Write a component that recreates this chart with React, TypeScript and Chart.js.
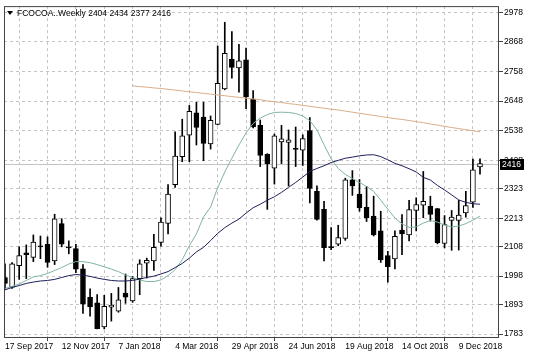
import React, { useEffect, useRef } from "react";
import { Chart, registerables } from "chart.js";

Chart.register(...registerables);

const symbolTitle = "FCOCOA..Weekly";
const xTickLabels = ["17 Sep 2017", "12 Nov 2017", "7 Jan 2018", "4 Mar 2018", "29 Apr 2018", "24 Jun 2018", "19 Aug 2018", "14 Oct 2018", "9 Dec 2018"];
const gridWeeks = [0, 4, 8, 12, 16, 20, 24, 28, 32, 36, 40, 44, 48, 52, 56, 60, 64, 68];
const yTickValues = [1783, 1893, 1998, 2108, 2213, 2323, 2428, 2538, 2648, 2758, 2868, 2978];

const opens = [1993, 1957, 2037, 2085, 2068, 2111, 2116, 2055, 2193, 2107,
  2100, 2025, 1919, 1899, 1809, 1883, 1868, 1935, 1906, 1989,
  2046, 2055, 2123, 2194, 2338, 2442, 2522, 2605, 2589, 2489,
  2562, 2693, 2804, 2771, 2801, 2656, 2558, 2450, 2399, 2497,
  2495, 2473, 2466, 2539, 2313, 2246, 2108, 2117, 2138, 2356,
  2303, 2254, 2221, 2166, 2074, 2062, 2169, 2151, 2242, 2262,
  2258, 2249, 2120, 2205, 2205, 2233, 2273, 2404];
const highs = [2044, 2048, 2107, 2114, 2151, 2147, 2144, 2228, 2211, 2129,
  2116, 2041, 1951, 1930, 1927, 1934, 1956, 2006, 1997, 2059,
  2065, 2153, 2215, 2338, 2534, 2581, 2632, 2644, 2644, 2593,
  2853, 2941, 2906, 2859, 2845, 2687, 2578, 2453, 2526, 2558,
  2541, 2552, 2523, 2587, 2333, 2276, 2178, 2187, 2362, 2390,
  2357, 2331, 2295, 2239, 2090, 2166, 2227, 2280, 2289, 2387,
  2295, 2250, 2223, 2242, 2280, 2313, 2433, 2434];
const lows = [1949, 1952, 1986, 1989, 2052, 2063, 2031, 2041, 2107, 2081,
  2011, 1860, 1849, 1802, 1802, 1831, 1864, 1897, 1901, 1929,
  1991, 2019, 2109, 2155, 2328, 2423, 2423, 2485, 2427, 2470,
  2560, 2690, 2733, 2681, 2620, 2549, 2405, 2246, 2340, 2416,
  2333, 2405, 2409, 2270, 2206, 2055, 2096, 2111, 2131, 2298,
  2239, 2201, 2147, 2049, 1976, 2025, 2078, 2129, 2166, 2215,
  2203, 2118, 2103, 2094, 2095, 2217, 2253, 2377];
const closes = [1971, 2044, 2074, 2078, 2125, 2107, 2049, 2211, 2117, 2103,
  2024, 1894, 1884, 1803, 1886, 1890, 1910, 1920, 1989, 2044,
  2057, 2105, 2199, 2303, 2444, 2519, 2610, 2550, 2491, 2577,
  2714, 2826, 2773, 2798, 2664, 2552, 2446, 2416, 2519, 2508,
  2504, 2469, 2509, 2324, 2209, 2104, 2104, 2141, 2356, 2333,
  2251, 2214, 2151, 2058, 2033, 2146, 2155, 2245, 2264, 2276,
  2227, 2122, 2190, 2217, 2225, 2260, 2393, 2416];

const maSlow = [null, null, null, null, null, null, null, null, null, null,
  null, null, null, null, null, null, null, null,
  2705, 2702, 2700, 2697, 2695, 2692, 2689, 2686, 2683, 2680,
  2677, 2674, 2671, 2668, 2665, 2662, 2659, 2656, 2653, 2649,
  2646, 2643, 2639, 2636, 2632, 2629, 2625, 2622, 2618, 2615,
  2611, 2607, 2603, 2599, 2595, 2591, 2587, 2583, 2580, 2576,
  2572, 2568, 2563, 2559, 2554, 2550, 2546, 2542, 2538, 2534];
const maMid = [1947, 1956, 1963, 1971, 1976, 1980, 1982, 1986, 1993, 2000,
  2004, 2002, 1997, 1991, 1986, 1982, 1980, 1980, 1982, 1987,
  1993, 1998, 2006, 2015, 2030, 2045, 2065, 2088, 2105, 2130,
  2157, 2178, 2195, 2210, 2232, 2252, 2265, 2280, 2293, 2309,
  2328, 2346, 2366, 2387, 2398, 2408, 2420, 2428, 2436, 2440,
  2445, 2448, 2449, 2442, 2430, 2417, 2408, 2397, 2385, 2365,
  2355, 2335, 2318, 2300, 2281, 2272, 2267, 2265];
const maFast = [1952, 1960, 1969, 1982, 1995, 2000, 2008, 2019, 2030, 2043,
  2052, 2052, 2048, 2041, 2033, 2024, 2015, 2002, 1993, 1984,
  1978, 1978, 1984, 2000, 2022, 2059, 2111, 2155, 2218, 2255,
  2326, 2385, 2436, 2485, 2530, 2565, 2585, 2598, 2606, 2607,
  2606, 2602, 2593, 2576, 2541, 2486, 2434, 2398, 2376, 2361,
  2346, 2331, 2313, 2280, 2247, 2214, 2192, 2179, 2181, 2195,
  2204, 2199, 2188, 2181, 2184, 2193, 2206, 2221];

const FONT = "'Liberation Sans', Arial, sans-serif";

const overlayPlugin = {
  id: "mtOverlay",
  beforeDatasetsDraw(chart: any) {
    const { ctx, chartArea } = chart;
    const y = chart.scales.y.getPixelForValue(closes[closes.length - 1]);
    ctx.save();
    ctx.strokeStyle = "#c4c4c4";
    ctx.lineWidth = 1;
    ctx.beginPath();
    ctx.moveTo(chartArea.left, Math.round(y) + 0.5);
    ctx.lineTo(chartArea.right, Math.round(y) + 0.5);
    ctx.stroke();
    ctx.restore();
  },
  afterDraw(chart: any) {
    const { ctx, chartArea } = chart;
    ctx.save();
    // frame
    ctx.strokeStyle = "#444";
    ctx.lineWidth = 1;
    ctx.strokeRect(chartArea.left + 0.5, chartArea.top + 0.5, chartArea.right - chartArea.left - 1, chartArea.bottom - chartArea.top);
    // current price box
    const last = closes[closes.length - 1];
    const y = chart.scales.y.getPixelForValue(last);
    ctx.fillStyle = "#000";
    ctx.fillRect(chartArea.right + 1, Math.round(y) - 5, 24, 11);
    ctx.fillStyle = "#fff";
    ctx.font = "8.5px " + FONT;
    ctx.textBaseline = "middle";
    ctx.textAlign = "left";
    ctx.fillText(String(last), chartArea.right + 3, Math.round(y) + 0.5);
    // header
    const hx = chartArea.left + 3;
    const hy = chartArea.top + 7;
    ctx.fillStyle = "#000";
    ctx.beginPath();
    ctx.moveTo(hx, hy - 2);
    ctx.lineTo(hx + 6, hy - 2);
    ctx.lineTo(hx + 3, hy + 2);
    ctx.closePath();
    ctx.fill();
    const n = closes.length - 1;
    ctx.fillText(symbolTitle + " " + opens[n] + " " + highs[n] + " " + lows[n] + " " + closes[n], hx + 10, hy + 0.5);
    ctx.restore();
  },
};

export default function App() {
  const ref = useRef<HTMLCanvasElement | null>(null);
  useEffect(() => {
    document.body.style.margin = "0";
    const canvas = ref.current!;
    const idx = closes.map((_, i) => i);
    const wickData = idx.map((i) => ({ x: i, y: [lows[i], highs[i]] }));
    const bodyData = idx.map((i) => ({ x: i, y: [Math.min(opens[i], closes[i]), Math.max(opens[i], closes[i])] }));
    const bodyColors = idx.map((i) => (closes[i] >= opens[i] ? "#ffffff" : "#000000"));
    const line = (arr: (number | null)[]) => arr.map((v, i) => ({ x: i, y: v }));

    const chart = new Chart(canvas, {
      type: "bar",
      data: {
        datasets: [
          { type: "line", data: line(maSlow) as any, borderColor: "#d9ae88", borderWidth: 1, pointRadius: 0, tension: 0, order: 0, spanGaps: false },
          { type: "line", data: line(maMid) as any, borderColor: "#1e1e5c", borderWidth: 1, pointRadius: 0, tension: 0, order: 0 },
          { type: "line", data: line(maFast) as any, borderColor: "#7fb4a4", borderWidth: 1, pointRadius: 0, tension: 0, order: 0 },
          { type: "bar", data: bodyData as any, backgroundColor: bodyColors, borderColor: "#000", borderWidth: 1, borderSkipped: false, barThickness: 5, grouped: false, order: 1 } as any,
          { type: "bar", data: wickData as any, backgroundColor: "#000", borderWidth: 0, barThickness: 1, grouped: false, order: 2 } as any,
        ],
      },
      options: {
        responsive: false,
        animation: false,
        devicePixelRatio: 1,
        layout: { padding: { left: 4, top: 3, right: 0, bottom: 0 } },
        plugins: { legend: { display: false }, tooltip: { enabled: false } },
        scales: {
          x: {
            type: "linear",
            position: "bottom",
            min: -0.14,
            max: 69.68,
            bounds: "data",
            offset: false,
            afterBuildTicks: (s: any) => {
              s.ticks = gridWeeks.map((v) => ({ value: v }));
            },
            afterFit: (s: any) => {
              s.height = 21;
            },
            ticks: {
              autoSkip: false,
              maxRotation: 0,
              minRotation: 0,
              align: "start",
              padding: 1,
              color: "#000",
              font: { family: FONT, size: 8.5 },
              callback: (v: any) => (v % 8 === 0 ? xTickLabels[v / 8] ?? "" : ""),
            },
            grid: {
              color: "#c4c4c4",
              tickLength: 4,
              tickColor: (c: any) => (c.tick && c.tick.value % 8 === 0 && c.tick.value < 68 ? "#444" : "rgba(0,0,0,0)"),
            },
            border: { display: false, dash: [3, 3] },
          } as any,
          y: {
            type: "linear",
            position: "right",
            min: 1772,
            max: 3001,
            afterBuildTicks: (s: any) => {
              s.ticks = yTickValues.map((v) => ({ value: v }));
            },
            afterFit: (s: any) => {
              s.width = 37;
            },
            ticks: {
              autoSkip: false,
              padding: 1,
              color: "#000",
              font: { family: FONT, size: 8.5 },
              callback: (v: any) => String(v),
            },
            grid: { color: "#c4c4c4", tickLength: 4, tickColor: "#444" },
            border: { display: false, dash: [3, 3] },
          } as any,
        },
      },
      plugins: [overlayPlugin],
    });
    return () => chart.destroy();
  }, []);
  return (
    <div style={{ width: 536, height: 358, background: "#fff" }}>
      <canvas ref={ref} width={536} height={358} style={{ display: "block" }} />
    </div>
  );
}
